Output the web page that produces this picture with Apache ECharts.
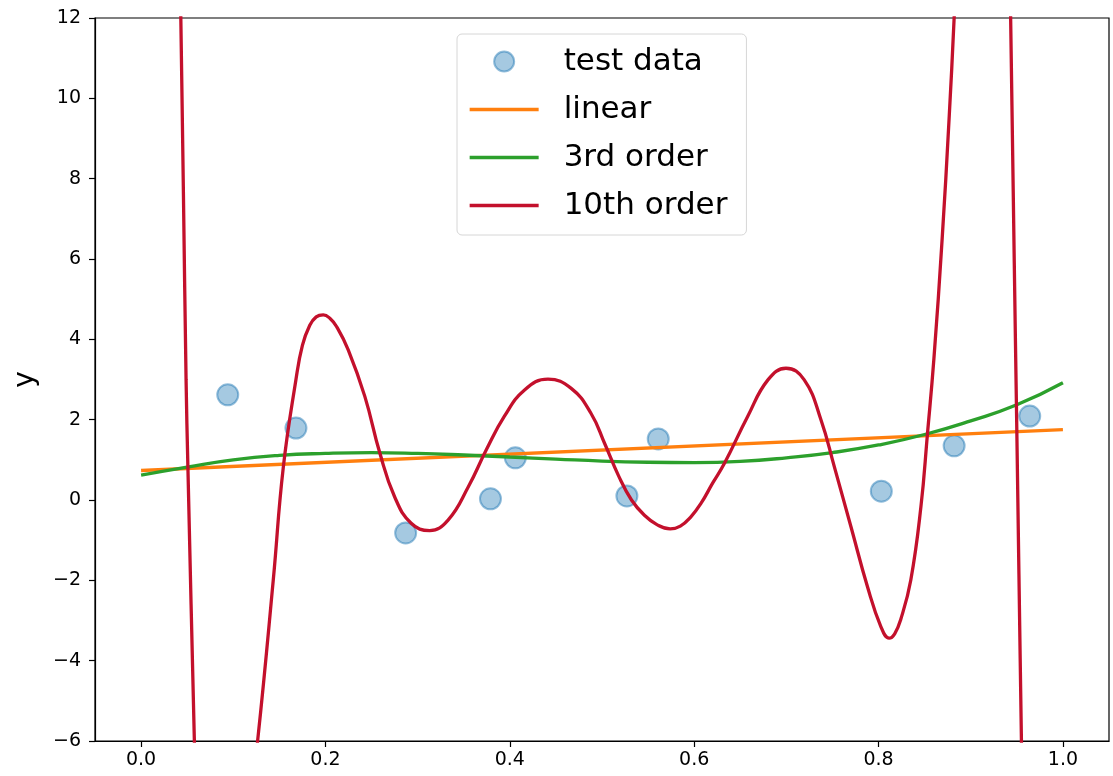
<!DOCTYPE html>
<html>
<head>
<meta charset="utf-8">
<script src="https://cdn.jsdelivr.net/npm/echarts@6/dist/echarts.min.js"></script>
<style>
  html, body { margin: 0; padding: 0; background: #fff; }
  #chart { width: 1113px; height: 776px; }
</style>
</head>
<body>
<div id="chart"></div>
<script>
// test points
var testX = [0.094, 0.168, 0.287, 0.379, 0.406, 0.527, 0.561, 0.803, 0.882, 0.964];
var testY = [2.62, 1.79, -0.82, 0.03, 1.05, 0.10, 1.52, 0.22, 1.35, 2.09];

// linear fit, read at both ends
var linearX = [0.0, 1.0];
var linearY = [0.735, 1.75];

// 3rd order fit
var cubicX = [0.0, 0.05, 0.1, 0.15, 0.2, 0.25, 0.3, 0.35, 0.4, 0.45, 0.5, 0.55, 0.6, 0.65, 0.7, 0.75, 0.8, 0.85, 0.9, 0.95, 1.0];
var cubicY = [0.62, 0.82, 1.0, 1.11, 1.16, 1.18, 1.16, 1.12, 1.07, 1.02, 0.97, 0.94, 0.93, 0.96, 1.05, 1.18, 1.37, 1.63, 1.97, 2.37, 2.92];

// 10th order fit (goes off chart at both ends)
var tenthX = [0.039, 0.0431, 0.046, 0.0488, 0.0508, 0.0578, 0.062, 0.09, 0.11, 0.1264, 0.1434, 0.1542, 0.168, 0.175, 0.183, 0.19, 0.1976, 0.205, 0.212,
    0.2247, 0.2427, 0.259, 0.275, 0.293, 0.313, 0.333, 0.355, 0.3745, 0.394, 0.416, 0.4414, 0.4666, 0.488, 0.503, 0.518, 0.532, 0.546, 0.56, 0.574,
    0.585, 0.596, 0.6075, 0.62, 0.633, 0.658, 0.68, 0.6996, 0.7194, 0.7375, 0.752, 0.77, 0.788, 0.8025, 0.8115, 0.8175, 0.824, 0.835, 0.846, 0.853, 0.86,
    0.869, 0.8765, 0.882, 0.887, 0.91, 0.94, 0.9433, 0.9461, 0.9484, 0.95, 0.9523, 0.955, 0.957];
var tenthY = [18, 12, 7.5, 2.99, 0.8, -6, -9.8, -18, -9.2, -6, -1.99, 0.8, 3.0, 3.85, 4.35, 4.56, 4.61, 4.52, 4.32,
    3.74, 2.58, 1.17, 0.08, -0.58, -0.76, -0.5, 0.33, 1.25, 2.08, 2.74, 3.01, 2.78, 2.16, 1.4, 0.6, 0.0, -0.38, -0.62, -0.72,
    -0.65, -0.43, -0.08, 0.42, 0.92, 2.08, 2.99, 3.28, 2.99, 2.0, 0.83, -0.66, -2.16, -3.15, -3.44, -3.33, -2.98, -1.99, -0.16, 1.63, 3.5,
    6.5, 9.48, 12, 14.7, 24, 17, 12, 7.69, 4.11, 1.73, -1.85, -6, -9];

var xTicks = [0.0, 0.2, 0.4, 0.6, 0.8, 1.0];

function pairs(xs, ys) {
    return xs.map(function (x, i) { return [x, ys[i]]; });
}

function minusFmt(v) {
    return v < 0 ? '\u2212' + Math.abs(v) : String(v);
}

var chart = echarts.init(document.getElementById('chart'));

var tickFont = { fontFamily: 'DejaVu Sans', fontSize: 19, color: '#000' };
var lineW = 3.3;

chart.setOption({
    animation: false,
    backgroundColor: '#fff',
    grid: {
        left: 95,
        right: 4,
        top: 18,
        bottom: 35,
        outerBoundsMode: 'none',
        containLabel: false,
        show: true,
        borderColor: '#000',
        borderWidth: 1.2,
        backgroundColor: 'transparent'
    },
    xAxis: {
        type: 'value',
        min: -0.05,
        max: 1.05,
        axisLine: { show: true, onZero: false, lineStyle: { color: '#000', width: 1.2 } },
        axisTick: { show: true, length: 6, lineStyle: { color: '#000', width: 1.2 }, customValues: xTicks },
        axisLabel: Object.assign({
            margin: 10,
            customValues: xTicks,
            formatter: function (v) { return v.toFixed(1); }
        }, tickFont),
        splitLine: { show: false }
    },
    yAxis: {
        type: 'value',
        min: -6,
        max: 12,
        interval: 2,
        name: 'y',
        nameLocation: 'middle',
        nameRotate: 90,
        nameGap: 55,
        nameTextStyle: { fontFamily: 'DejaVu Sans', fontSize: 28, color: '#000' },
        axisLine: { show: true, onZero: false, lineStyle: { color: '#000', width: 1.2 } },
        axisTick: { show: true, length: 6, lineStyle: { color: '#000', width: 1.2 } },
        axisLabel: Object.assign({ margin: 14, formatter: minusFmt }, tickFont),
        splitLine: { show: false }
    },
    legend: {
        orient: 'vertical',
        left: 457,
        top: 34,
        itemWidth: 69,
        itemHeight: 20,
        itemGap: 11,
        padding: [9, 19, 11, 11],
        backgroundColor: 'rgba(255,255,255,0.8)',
        borderColor: '#d6d6d6',
        borderWidth: 1,
        borderRadius: 5,
        textStyle: {
            fontFamily: 'DejaVu Sans',
            fontSize: 31,
            color: '#000',
            lineHeight: 37,
            padding: [0, 0, 0, 20]
        },
        data: [
            { name: 'test data' },
            { name: 'linear', itemStyle: { opacity: 0 }, lineStyle: { width: lineW } },
            { name: '3rd order', itemStyle: { opacity: 0 }, lineStyle: { width: lineW } },
            { name: '10th order', itemStyle: { opacity: 0 }, lineStyle: { width: lineW } }
        ]
    },
    series: [
        {
            name: 'test data',
            type: 'scatter',
            symbol: 'circle',
            symbolSize: 21,
            itemStyle: {
                color: 'rgba(31,119,180,0.5)',
                borderColor: 'rgba(31,119,180,0.6)',
                borderWidth: 2
            },
            data: pairs(testX, testY)
        },
        {
            name: 'linear',
            type: 'line',
            symbol: 'none',
            lineStyle: { color: '#ff7f0e', width: lineW },
            itemStyle: { color: '#ff7f0e' },
            data: pairs(linearX, linearY)
        },
        {
            name: '3rd order',
            type: 'line',
            symbol: 'none',
            smooth: true,
            lineStyle: { color: '#2ca02c', width: lineW },
            itemStyle: { color: '#2ca02c' },
            data: pairs(cubicX, cubicY)
        },
        {
            name: '10th order',
            type: 'line',
            symbol: 'none',
            smooth: 0.45,
            clip: true,
            lineStyle: { color: '#c3102c', width: lineW },
            itemStyle: { color: '#c3102c' },
            data: pairs(tenthX, tenthY)
        }
    ]
});
</script>
</body>
</html>
